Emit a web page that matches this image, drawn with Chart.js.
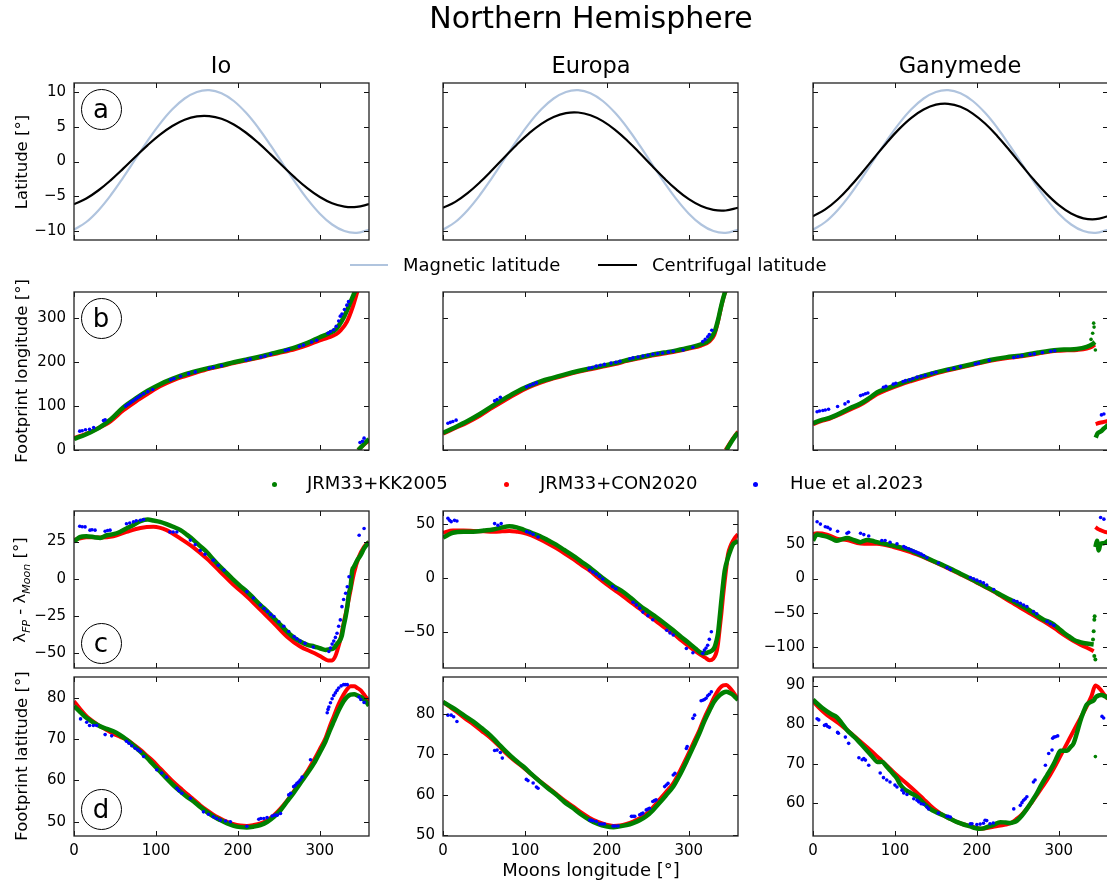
<!DOCTYPE html>
<html><head><meta charset="utf-8">
<script src="https://cdn.jsdelivr.net/npm/chart.js@4.4.1/dist/chart.umd.min.js"></script>
<style>
body{margin:0;width:1107px;height:882px;overflow:hidden;background:#fff;font-family:"DejaVu Sans",sans-serif;position:relative}
.t{position:absolute;white-space:nowrap;color:#000;line-height:1}
.c{transform:translate(-50%,-50%)}
.l{transform:translateY(-50%)}
.r{transform:translate(-50%,-50%) rotate(-90deg)}
.circ{position:absolute;width:41px;height:41px;box-sizing:border-box;border:1.3px solid #000;border-radius:50%;display:flex;align-items:center;justify-content:center;font-size:26px;line-height:1;background:#fff}
.ln{position:absolute}
.dot{position:absolute;width:5px;height:5px;border-radius:50%}
canvas{position:absolute}
</style></head><body>
<script>
// ---------- tick labels ----------
const X_TICKS = [0,100,200,300];
const Y_TICKS_A = [-10,-5,0,5,10];
const Y_TICKS_B = [0,100,200,300];
const Y_TICKS_C_IO = [-50,-25,0,25];
const Y_TICKS_C_EUR = [-50,0,50];
const Y_TICKS_C_GAN = [-100,-50,0,50];
const Y_TICKS_D_IO = [50,60,70,80];
const Y_TICKS_D_EUR = [50,60,70,80];
const Y_TICKS_D_GAN = [60,70,80,90];

// ---------- row a: latitude of the moons ----------
const LON_A = [0,15,30,45,60,75,90,105,120,135,150,165,180,195,210,225,240,255,270,285,300,315,330,345,360];
const MAG_LAT = [-9.85,-8.73,-7.02,-4.84,-2.32,0.36,3.01,5.46,7.53,9.09,10.04,10.29,9.85,8.73,7.02,4.84,2.32,-0.36,-3.01,-5.46,-7.53,-9.09,-10.04,-10.29,-9.85];
const IO_CENT = [-6.16,-5.34,-4.15,-2.68,-1.03,0.69,2.37,3.88,5.13,6.03,6.52,6.56,6.16,5.34,4.15,2.68,1.03,-0.69,-2.37,-3.88,-5.13,-6.03,-6.52,-6.56,-6.16];
const EUR_CENT = [-6.67,-5.82,-4.56,-3.00,-1.23,0.62,2.43,4.07,5.44,6.43,6.99,7.07,6.67,5.82,4.56,3.00,1.23,-0.62,-2.43,-4.07,-5.44,-6.43,-6.99,-7.07,-6.67];
const GAN_CENT = [-7.90,-6.92,-5.48,-3.66,-1.59,0.58,2.72,4.67,6.30,7.50,8.20,8.33,7.90,6.92,5.48,3.66,1.59,-0.58,-2.72,-4.67,-6.30,-7.50,-8.20,-8.33,-7.90];

// ---------- row b: footprint longitude ----------
const IO_B_GREEN = [[0,25],[15,36],[30,50],[45,70],[60,97],[75,117],[90,135],[105,150],[120,162],[135,172],[150,180],[165,187],[180,193],[195,200],[210,206],[225,212],[240,219],[255,226],[270,234],[285,244],[300,257],[310,265],[320,276],[330,305],[337,335],[343,362]];
const IO_B_GREEN_WRAP = [[347,0],[353,12],[360,25]];
const IO_B_RED = [[0,27],[15,37],[30,50],[45,66],[60,90],[75,110],[90,128],[105,145],[120,158],[135,168],[150,177],[165,185],[180,191],[195,198],[210,204],[225,210],[240,217],[255,223],[270,230],[285,239],[300,250],[310,256],[320,264],[325,272],[333,292],[340,325],[346,362]];
const IO_B_RED_WRAP = [[346.5,0],[353,11],[360,22]];
const IO_B_BLUE = [[7,43],[10,44],[14,46],[19,47],[24,51],[36,67],[38,69],[63,100],[66,104],[69,108],[72,112],[75,116],[78,120],[81,124],[85,128],[90,133],[96,138],[118,160],[122,163],[130,168],[140,174],[148,178],[165,186],[170,188],[180,192],[210,205],[215,207],[228,212],[233,214],[240,218],[258,227],[262,229],[275,236],[280,239],[290,246],[296,250],[310,266],[313,270],[317,274],[320,282],[323,294],[325,305],[327,310],[330,320],[333,330],[335,338],[349,17],[352,20],[354,27]];

const EUR_B_GREEN = [[0,39],[15,52],[30,66],[45,82],[60,100],[75,117],[90,133],[105,146],[120,157],[135,165],[150,173],[165,180],[180,186],[195,192],[210,198],[225,205],[240,211],[255,217],[270,222],[285,227],[300,233],[315,241],[325,251],[331.6,270],[335.6,296],[339.7,330],[343.8,358],[344.5,362]];
const EUR_B_GREEN_WRAP = [[346,0],[352,19],[360,40]];
const EUR_B_RED = [[0,37],[15,50],[30,63],[45,78],[60,96],[75,113],[90,129],[105,143],[120,154],[135,163],[150,171],[165,178],[180,184],[195,190],[210,196],[225,203],[240,209],[255,215],[270,220],[285,225],[300,231],[315,238],[325,247],[331,262],[335,288],[339,322],[343,352],[345,362]];
const EUR_B_RED_WRAP = [[345,0],[351,18],[360,42]];
const EUR_B_BLUE = [[6,61],[9,63],[12,65],[16,68],[63,112],[66,115],[70,120],[102,144],[106,147],[110,150],[114,153],[178,186],[182,188],[187,191],[192,193],[197,195],[205,198],[211,200],[216,202],[228,208],[232,210],[238,212],[244,214],[250,216],[256,218],[262,220],[268,221],[275,223],[281,225],[293,228],[305,234],[317,247],[320,252],[323,258],[325,263],[328,273]];

const GAN_B_GREEN = [[0,61],[10,68],[20,73],[29,80],[45,95],[58,106],[70,120],[78,131],[90,140],[107,152],[120,160],[139,171],[155,179],[176,188],[195,196],[216,205],[235,211],[257,216],[275,222],[298,228],[310,229],[322,230],[334,235],[341,241],[344,246]];
const GAN_B_GREEN_OUT = [[339.3,252],[341.3,266],[342.5,289],[343,280],[344.6,228]];
const GAN_B_GREEN_WRAP = [[345,28],[347,37],[351,42],[355,49],[360,57]];
const GAN_B_RED = [[0,59],[10,66],[20,71],[29,78],[45,92],[58,103],[70,117],[78,127],[90,137],[107,149],[120,157],[139,168],[155,177],[176,186],[195,194],[216,203],[235,209],[257,214],[275,220],[298,226],[310,227],[322,228],[334,231],[341,236],[344,240]];
const GAN_B_RED_WRAP = [[345,59],[350,62],[355,64],[360,66]];
const GAN_B_BLUE = [[5,87],[8,89],[12,90],[15,91],[19,93],[30,99],[39,105],[43,110],[58,124],[61,126],[64,128],[67,130],[86,143],[89,145],[98,150],[101,152],[110,156],[113,158],[118,160],[122,163],[127,166],[132,168],[137,170],[145,175],[150,177],[165,183],[172,186],[180,190],[198,196],[202,198],[215,204],[245,211],[250,213],[255,215],[265,218],[270,219],[280,222],[290,225],[295,226],[352,80],[355,82]];

// ---------- row c: lambda_FP - lambda_Moon ----------
const IO_C_GREEN = [[0,25],[7,28],[15,28.6],[25,28],[32,27.5],[40,29.3],[48,30],[56,31.5],[64,33.8],[72,36],[81,38.7],[90,39.8],[97,39.2],[105,38.3],[113,36.8],[121,35],[130,32.7],[138,29.5],[146,26],[154,22],[162,18],[170,13],[178.5,8],[187,3.5],[195,-1],[203,-5],[211,-8.7],[219,-13],[227.5,-17.7],[236,-22],[244,-26.6],[252,-31],[260,-35.6],[268,-39.5],[276,-42.3],[285,-44.5],[293,-45.6],[300,-46.8],[307,-47.9],[312,-47.5],[317,-46.8],[321,-43.8],[325,-41],[327,-38],[329,-32],[331.5,-25.5],[333.5,-18.8],[335.5,-9.8],[337.5,-5.4],[339.6,5.8],[341.6,8],[345.7,12.5],[349.8,15.9],[354,20.4],[360,24.8]];
const IO_C_RED = [[0,26],[15,28],[32,27.7],[48,28.6],[64,31.5],[81,34.2],[97,35],[113,32.7],[130,27],[146,21],[162,13.6],[178.5,4.7],[195,-4.3],[211,-12],[227.5,-21],[244,-30],[260,-39],[276,-45.6],[293,-50],[303,-53],[310,-55],[315,-55],[319,-52],[322,-47],[325,-41],[329,-30],[333.5,-18.8],[337.5,-7.6],[341.6,3.6],[347.7,14.8],[354,21.5],[360,24.8]];
const IO_C_BLUE = [[7,35.3],[10,35],[13.5,34.9],[19.5,32.7],[22,33],[25.7,32.7],[38,32],[41,32.5],[44,32.7],[64,37],[68,37.5],[72.6,38.3],[76,39],[81,39.4],[85,39.8],[117,31.5],[121,31.5],[125.5,31.5],[142,26],[148,23],[154,19],[160,16.5],[170,12.5],[176,9],[183,5.8],[211,-8.7],[219,-13],[227.5,-17.7],[232,-20],[236,-22],[240,-24],[244,-25.5],[250,-29],[256,-32],[262,-35.5],[268.6,-39],[272,-40.5],[276,-42],[282,-43.5],[292,-46],[311,-49],[313,-46.7],[315,-44],[317,-42],[319,-39.5],[321,-36.7],[323,-32],[325,-27.7],[327,-18.8],[329,-14],[331.5,-9.8],[333.5,-5.4],[335.6,1.3],[348,29.3],[354,33.8]];

const EUR_C_GREEN = [[0,37.5],[6,40],[12,42],[25,43],[37,43],[50,44],[61,45],[72,47],[81,48],[90,47],[98,45],[108,42],[118,39],[128,35],[138,31],[148,26],[159,20.6],[169,15],[179,9.8],[189,3.5],[199,-2.5],[209,-8],[220,-13],[230,-19],[240,-25.5],[250,-31],[260,-36.3],[270,-42],[281,-48.6],[291,-55],[301,-61],[308,-65.5],[315,-69.5],[320,-70],[325,-68.6],[329,-67],[331.6,-64],[333.5,-59],[335.6,-51.7],[337.5,-38],[339.7,-21],[341.6,-7],[343.8,6.8],[347.8,19],[351,26],[354,31.4],[357,33],[360,34.5]];
const EUR_C_RED = [[0,42],[12,44],[25,44],[37,43.7],[50,43.3],[61,43],[72,43.3],[81,43.7],[90,43],[98,42],[108,39.5],[118,36],[128,32],[138,27.7],[148,23],[159,17.5],[169,12],[179,6.8],[189,0.5],[199,-5.5],[209,-11],[220,-17],[230,-23],[240,-28.6],[250,-34.5],[260,-40],[270,-46],[281,-51.7],[291,-58],[301,-64],[308,-68],[315,-71.7],[320,-74],[325,-76.3],[328,-76],[331.6,-73],[334,-68],[335.6,-61],[337.5,-48],[339.7,-33],[341.6,-18],[343.8,-2.5],[345.8,10],[347.8,22],[351,30],[354,34.5],[357,38],[360,40.6]];
const EUR_C_BLUE = [[6,55.4],[8,53.5],[10,52.3],[14,53.5],[17,52.9],[63,50.5],[67,49],[71,50.5],[102,43],[106,42],[110,40.6],[116,38],[179,7.4],[183,5.5],[187,3.7],[191,1.5],[195,-1],[207,-8],[211,-10],[232,-22.5],[236,-25],[240,-28],[244,-31.7],[250,-35],[256,-38.8],[273,-48.6],[277,-51],[281,-53],[297,-65.5],[305,-69.5],[317,-70],[319,-67],[321,-65],[323,-62.5],[325,-57],[327.5,-50]];

const GAN_C_GREEN = [[0,55],[3,62],[5,64],[10,63],[17,61],[23,58],[29,55],[35,57],[41.5,59],[50,56],[58,53],[62,55],[66,56],[72,55],[78,53],[88,50.5],[98,48],[108,45],[119,41],[129,35.5],[139,30],[149,24.5],[159.5,19],[170,13],[180,7],[190,1],[200,-5],[210,-11.5],[220.5,-18],[230,-24.5],[241,-31],[251,-37.5],[261,-44],[271,-52],[281.5,-60],[288,-63],[294,-67],[300,-73],[306,-79],[312,-84],[318,-89],[324,-92],[330,-94],[336,-95],[342.5,-96]];
const GAN_C_GREEN_OUT = [[341.7,-89],[342.5,-77],[343.3,-60],[343.7,-55],[343.3,-113],[344.6,-118]];
const GAN_C_GREEN_WRAP = [[344.6,45.7],[346.6,55],[348.7,41],[350.7,50.5],[354.8,51.4],[360,55]];
const GAN_C_RED = [[0,65],[5,66],[17,64],[29,58],[41.5,56],[58,51],[78,50.5],[98,46],[119,38.5],[139,29],[159.5,18],[180,6],[200,-6],[220.5,-19],[241,-34],[261,-48],[281.5,-62.5],[294,-72],[306,-82],[318,-91],[330,-98.5],[338,-103],[342.5,-106]];
const GAN_C_RED_WRAP = [[344.6,75],[348,72],[352,70],[356,68],[360,67]];
const GAN_C_BLUE = [[5,82.7],[9,79.3],[15,75.5],[18,74.5],[21,72],[30,68.8],[41.5,65.9],[43.5,67.3],[58,65.9],[62,64],[68,62],[84,55.3],[88,55.3],[94,52.9],[102.5,50.5],[110.7,46.6],[113,45],[116.8,43.3],[120,41.5],[123,39.9],[126,38.5],[129,37],[132,35.5],[135,33.6],[139,30.3],[153,22.6],[163.5,15.9],[167.6,13],[192,1.4],[196,-0.5],[200,-2.4],[204,-4.5],[208,-6.3],[212,-9.6],[220.5,-15.9],[245,-32],[249,-33.7],[253,-36],[257,-38.5],[261,-40.9],[269,-48],[273,-51.4],[285.6,-62.5],[289.7,-65.9],[294,-68.3],[351,89],[355,86.5]];

// ---------- row d: footprint latitude ----------
const IO_D_GREEN = [[0,78],[8,76.5],[15.5,75.1],[24,74],[32,73.1],[40,72.5],[48,71.9],[56,71],[64,69.9],[72,68.6],[81,67],[89,65.5],[97,63.8],[105,62.2],[113,60.5],[121,58.9],[130,57.3],[138,56],[146,54.9],[154,53.6],[162,52.4],[170,51.3],[178.5,50.4],[187,49.6],[195,49],[203,48.7],[211,48.6],[219,48.8],[227.5,49.2],[236,50],[244,51.2],[252,52.8],[260,54.9],[268,57],[276,59.3],[285,61.8],[293,64.2],[300,66.8],[307,69.5],[312,72],[317,74.3],[323,77],[329,79.2],[333,80.2],[337.5,80.8],[342,80.9],[345.7,80.6],[350,80.2],[353.9,79.6],[357,78.9],[360,78.1]];
const IO_D_RED = [[0,79.2],[8,77.2],[15.5,75.5],[24,74.2],[32,73.1],[40,72.2],[48,71.3],[56,70.6],[64,69.9],[72,68.8],[81,67.4],[89,66],[97,64.6],[105,62.9],[113,61.3],[121,59.7],[130,58.1],[138,56.7],[146,55.4],[154,54],[162,52.8],[170,51.7],[178.5,50.8],[187,50],[195,49.4],[203,49.1],[211,49],[219,49.2],[227.5,49.6],[236,50.4],[244,51.6],[252,53.2],[260,55.1],[268,57.3],[276,59.7],[285,62.3],[293,65],[300,67.6],[307,70.3],[312,73],[317,75.5],[323,78.5],[329,80.8],[333,82],[337.5,82.8],[342,82.8],[345.7,82.4],[350,81.8],[353.9,80.8],[357,80],[360,79.2]];
const IO_D_BLUE = [[8,74.9],[15.5,74.1],[19,73.3],[23.6,73.3],[27.7,73.3],[38,71.1],[46,70.8],[64,69.5],[67,69],[70.5,68.4],[74.6,67.8],[78,67.4],[81,67],[85,65.8],[101,62.6],[107,61.8],[113,60.8],[125.6,58.1],[128,57.5],[131.7,56.9],[142,55.7],[158,52.4],[164,51.8],[170,51.2],[174,50.8],[178.5,50.4],[185,50.2],[190.8,50],[211,48.9],[225.5,50.6],[228,50.8],[231.6,50.8],[235.6,51],[241.8,51.4],[245,51.6],[248,51.6],[252,52],[262,56.5],[264.4,56.9],[268,58.5],[270,58.8],[272,59.3],[274,59.6],[276,60.1],[278.4,60.8],[288.6,65],[309,76.4],[310,77.2],[311,77.8],[313,78.8],[315,79.8],[317,80.6],[319,81.2],[321,81.8],[323,82.4],[326,82.9],[329,83.2],[331,83.2],[333.5,83.2],[347.7,80.2],[350,79.6],[354,78.9]];

const EUR_D_GREEN = [[0,83.1],[8,82.1],[16,81.1],[26,79.7],[37,78.2],[47,76.6],[57,74.9],[67,72.8],[77,70.7],[87,68.8],[98,67],[108,65.1],[118,63.3],[128,61.6],[138,60],[148,58.2],[159,56.6],[169,55],[179,53.7],[189,52.7],[199,52.1],[208,51.9],[216,52.1],[224,52.4],[232,52.9],[240,53.6],[248,54.6],[256,56.1],[264,57.9],[272,59.8],[281,62],[289,64.9],[297,68.2],[305,71.7],[313,75.3],[319,78.3],[325.5,81.1],[331,83.2],[337.7,84.8],[342,85.4],[345.8,85.6],[350,85.3],[354,84.8],[357,84.2],[360,83.6]];
const EUR_D_RED = [[0,83.1],[8,81.9],[16,80.7],[26,79.1],[37,77.5],[47,75.9],[57,74.3],[67,72.4],[77,70.3],[87,68.5],[98,66.8],[108,65],[118,63.4],[128,61.8],[138,60.2],[148,58.6],[159,57],[169,55.5],[179,54.2],[189,53.2],[199,52.5],[208,52.2],[216,52.3],[224,52.7],[232,53.3],[240,54.1],[248,55.2],[256,56.8],[264,58.7],[272,60.6],[281,62.8],[289,65.8],[297,69.1],[305,72.6],[313,76.1],[319,79.1],[325.5,81.9],[331,84.3],[337.7,86.5],[342,87.2],[345.8,87.3],[350,86.6],[354,85.6],[357,84.7],[360,83.6]];
const EUR_D_BLUE = [[6,79.8],[10,79.8],[13,79.4],[17,78.2],[63,71],[66,71.1],[70,70.5],[72.4,69.1],[101.7,63.8],[103.7,63.5],[110,62.9],[114,61.9],[116,61.6],[179,53.7],[181,53.6],[183,53.5],[187,53.3],[191,52.7],[194,52.7],[197,52.7],[207.5,52.2],[210,52.2],[213.6,52.2],[230,54.6],[232,54.6],[234,54.6],[240,55],[242,55.2],[244,55.4],[248,56.2],[250,56.4],[252,56.6],[256,58.3],[258,58.5],[260,58.7],[270.5,62],[272.5,62.4],[274.6,62.8],[281,64.9],[283,65.3],[297,71.5],[298,72],[305,79],[307,79.8],[315,83.4],[317,83.5],[319,83.7],[321,84],[323,84.6],[325,85],[327.5,85.6]];

const GAN_D_GREEN = [[0,86.4],[5,85.4],[11,84.3],[17,83.4],[23,82.6],[29,81.9],[35,80.4],[41.5,78.6],[48,77.3],[54,76.1],[60,74.7],[66,73.3],[72,71.9],[78,70.5],[81,70.4],[84,70.5],[89,69.5],[94,68.3],[98,67.3],[102.5,66.2],[106,64.8],[110.7,63.6],[118,62.6],[127,61.5],[135,59.9],[143,58.4],[151,57.5],[159.5,56.7],[168,55.8],[176,55],[184,54.4],[192,53.9],[198,53.5],[204,53.3],[208,53.4],[212,53.7],[220,54.3],[228.6,55],[235,54.9],[241,54.8],[245,55],[249,55.4],[255,56.7],[261,58.4],[267,60.3],[273,62.3],[279,64.7],[285.6,67],[290,68.5],[294,70],[298,71.8],[302,73.3],[306,73.3],[310,73.3],[314,74.2],[318,75.2],[322,77.8],[326,80.8],[330,83.2],[334,85.1],[338,85.7],[342.5,86.2],[345,87],[348.7,87.5],[352,87.6],[357,87.2],[360,86.8]];
const GAN_D_GREEN_OUT = [[344.6,71.8]];
const GAN_D_RED = [[0,86],[8,84.2],[17,82.5],[29,80.7],[41.5,78.6],[54,76.4],[66,74.2],[75,72.5],[84,70.7],[93,68.9],[102.5,67],[115,64.8],[127,62.5],[135,60.9],[143,59.3],[151,57.9],[159.5,56.7],[168,55.8],[176,55],[184,54.4],[192,54],[198,53.6],[204,53.3],[212,53.5],[220,53.8],[228.6,54.1],[235,54.4],[241,54.7],[249,55.9],[255,57],[261,58.4],[267,60.1],[273,61.9],[279,63.8],[285.6,65.8],[294,68.8],[302,72],[310,75.2],[318,78.4],[326,81.5],[334,84.7],[340,87.4],[344.6,90],[350.7,89],[355,87.8],[360,86.6]];
const GAN_D_BLUE = [[5,81.5],[7,81.2],[14,79.8],[16,80],[18,79.5],[20,79.3],[30,78],[31,77.8],[39.5,76.8],[43.5,75.2],[56,71.5],[60,71],[62,71.3],[64,70.9],[68,69.6],[82,67.6],[86,66.4],[90,65.8],[94,65.3],[100,64.5],[102.5,64],[108.6,63.2],[110.7,62.5],[114.7,62.1],[123,61],[127,60.6],[129,60.2],[132,59.7],[135,59.6],[139,58.9],[141,58.4],[153,57.3],[163.5,56.5],[165,56.5],[167.6,56.3],[192,54.6],[194,54.6],[200,54.4],[204,54.5],[208,54.7],[210,55.5],[212,55.4],[216,54.6],[220,54.8],[245,58.4],[253,59.3],[255,60],[257,60.6],[259,61],[261,61.5],[269,65.3],[271,65.8],[283.6,69.6],[287.6,72.6],[291.7,73.5],[292.5,76.5],[294,76.8],[296,76.9],[298.6,77.1],[352.7,82.1],[354.7,81.7]];

// ---------- helpers ----------
const GREEN='#008000', RED='#ff0000', BLUE='#0000ff', LSB='#b0c4de';
const P = a => a.map(([x,y]) => ({x,y}));
const Z = (xs, ys) => xs.map((x,i) => ({x, y: ys[i]}));
const line = (data, color, w) => ({data, showLine:true, borderColor:color, backgroundColor:color, borderWidth:w, pointRadius:0, cubicInterpolationMode:'monotone', clip:0});
const sine = (data, color, w) => ({data, showLine:true, borderColor:color, borderWidth:w, pointRadius:0, tension:0.4, clip:0});
const pts = (data, color, r) => ({data, showLine:false, backgroundColor:color, borderColor:color, borderWidth:0, pointRadius:r, clip:0});
const fmt = v => String(v).replace('-', '\u2212');

const frame = {
  id:'frame',
  afterDatasetsDraw(c){
    const {ctx, chartArea:a, scales:{x,y}} = c;
    ctx.save();
    ctx.strokeStyle='#111'; ctx.lineWidth=1;
    ctx.beginPath();
    x.ticks.forEach(t => { const p = Math.round(x.getPixelForValue(t.value))+0.5;
      ctx.moveTo(p, a.bottom); ctx.lineTo(p, a.bottom-5);
      ctx.moveTo(p, a.top); ctx.lineTo(p, a.top+5); });
    y.ticks.forEach(t => { const p = Math.round(y.getPixelForValue(t.value))+0.5;
      ctx.moveTo(a.left, p); ctx.lineTo(a.left+5, p);
      ctx.moveTo(a.right, p); ctx.lineTo(a.right-5, p); });
    ctx.stroke();
    ctx.lineWidth=1.3; ctx.strokeStyle='#222';
    ctx.strokeRect(a.left, a.top, a.right-a.left, a.bottom-a.top);
    ctx.restore();
  }
};

const COLS = [74, 443, 813];
const PW = 295;
const ROWS = [[83,240],[292,450],[511,668],[677,836]];

function panel(col, row, yMin, yMax, yTicks, showY, showX, datasets){
  const YW=60, M=28, XB = showX ? 36 : 28;
  const left = COLS[col], top = ROWS[row][0], bottom = ROWS[row][1];
  const W = YW + PW + M, H = M + (bottom-top) + XB;
  const cv = document.createElement('canvas');
  cv.width = W; cv.height = H;
  cv.style.left = (left-YW)+'px'; cv.style.top = (top-M)+'px';
  cv.style.width = W+'px'; cv.style.height = H+'px';
  document.body.appendChild(cv);
  const font = {family:'DejaVu Sans', size:15};
  new Chart(cv, {
    type:'scatter',
    data:{datasets},
    options:{
      responsive:false, animation:false, devicePixelRatio:1, events:[],
      plugins:{legend:{display:false}, tooltip:{enabled:false}},
      layout:{padding:{top:M, right:M, left:0, bottom:0}},
      scales:{
        x:{type:'linear', min:0, max:360,
           afterBuildTicks:s => { s.ticks = X_TICKS.map(v => ({value:v})); },
           afterFit:s => { s.height = XB; },
           grid:{display:false, drawTicks:false}, border:{display:false},
           ticks:{display:showX, color:'#000', font, padding:6, maxRotation:0, callback:fmt}},
        y:{type:'linear', min:yMin, max:yMax,
           afterBuildTicks:s => { s.ticks = yTicks.map(v => ({value:v})); },
           afterFit:s => { s.width = YW; },
           grid:{display:false, drawTicks:false}, border:{display:false},
           ticks:{display:showY, color:'#000', font, padding:8, callback:fmt}}
      }
    },
    plugins:[frame]
  });
}

// row a
panel(0,0,-11.33,11.33,Y_TICKS_A,true,false,[sine(Z(LON_A,IO_CENT),'#000',2.2), sine(Z(LON_A,MAG_LAT),LSB,2.2)]);
panel(1,0,-11.33,11.33,Y_TICKS_A,false,false,[sine(Z(LON_A,EUR_CENT),'#000',2.2), sine(Z(LON_A,MAG_LAT),LSB,2.2)]);
panel(2,0,-11.33,11.33,Y_TICKS_A,false,false,[sine(Z(LON_A,GAN_CENT),'#000',2.2), sine(Z(LON_A,MAG_LAT),LSB,2.2)]);
// row b
panel(0,1,0,360,Y_TICKS_B,true,false,[pts(P(IO_B_BLUE),BLUE,1.8), line(P(IO_B_GREEN),GREEN,4.5), line(P(IO_B_GREEN_WRAP),GREEN,4.5), line(P(IO_B_RED),RED,4), line(P(IO_B_RED_WRAP),RED,4)]);
panel(1,1,0,360,Y_TICKS_B,false,false,[pts(P(EUR_B_BLUE),BLUE,1.8), line(P(EUR_B_GREEN),GREEN,4.5), line(P(EUR_B_GREEN_WRAP),GREEN,4.5), line(P(EUR_B_RED),RED,4), line(P(EUR_B_RED_WRAP),RED,4)]);
panel(2,1,0,360,Y_TICKS_B,false,false,[pts(P(GAN_B_BLUE),BLUE,1.8), pts(P(GAN_B_GREEN_OUT),GREEN,1.8), line(P(GAN_B_GREEN),GREEN,4.5), line(P(GAN_B_GREEN_WRAP),GREEN,4.5), line(P(GAN_B_RED),RED,4), line(P(GAN_B_RED_WRAP),RED,4)]);
// row c
panel(0,2,-60.1,45.6,Y_TICKS_C_IO,true,false,[pts(P(IO_C_BLUE),BLUE,1.8), line(P(IO_C_GREEN),GREEN,4.5), line(P(IO_C_RED),RED,4)]);
panel(1,2,-83.6,62.2,Y_TICKS_C_EUR,true,false,[pts(P(EUR_C_BLUE),BLUE,1.8), line(P(EUR_C_GREEN),GREEN,4.5), line(P(EUR_C_RED),RED,4)]);
panel(2,2,-130.4,98.4,Y_TICKS_C_GAN,true,false,[pts(P(GAN_C_BLUE),BLUE,1.8), pts(P(GAN_C_GREEN_OUT),GREEN,2), line(P(GAN_C_GREEN),GREEN,4.5), line(P(GAN_C_GREEN_WRAP),GREEN,4.5), line(P(GAN_C_RED),RED,4), line(P(GAN_C_RED_WRAP),RED,4)]);
// row d
panel(0,3,46.55,85.05,Y_TICKS_D_IO,true,true,[pts(P(IO_D_BLUE),BLUE,1.8), line(P(IO_D_GREEN),GREEN,4.5), line(P(IO_D_RED),RED,4)]);
panel(1,3,49.7,89.3,Y_TICKS_D_EUR,true,true,[pts(P(EUR_D_BLUE),BLUE,1.8), line(P(EUR_D_GREEN),GREEN,4.5), line(P(EUR_D_RED),RED,4)]);
panel(2,3,51.45,92.2,Y_TICKS_D_GAN,true,true,[pts(P(GAN_D_BLUE),BLUE,1.8), pts(P(GAN_D_GREEN_OUT),GREEN,1.8), line(P(GAN_D_GREEN),GREEN,4.5), line(P(GAN_D_RED),RED,4)]);
</script>

<div class="t c" style="left:591px;top:18px;font-size:30px">Northern Hemisphere</div>
<div class="t c" style="left:221px;top:65px;font-size:22.5px">Io</div>
<div class="t c" style="left:591px;top:65px;font-size:22.5px">Europa</div>
<div class="t c" style="left:960px;top:65px;font-size:22.5px">Ganymede</div>

<div class="t r" style="left:22px;top:162px;font-size:16.5px">Latitude [°]</div>
<div class="t r" style="left:22px;top:371px;font-size:16.5px">Footprint longitude [°]</div>
<div class="t r" style="left:22px;top:590px;font-size:16.5px">λ<sub style="font-size:11px;font-style:italic">FP</sub> - λ<sub style="font-size:11px;font-style:italic">Moon</sub> [°]</div>
<div class="t r" style="left:22px;top:756px;font-size:16.5px">Footprint latitude [°]</div>
<div class="t c" style="left:591px;top:870px;font-size:18px">Moons longitude [°]</div>

<div class="ln" style="left:350px;top:264px;width:38px;height:2.2px;background:#b0c4de"></div>
<div class="t l" style="left:403px;top:265px;font-size:18px">Magnetic latitude</div>
<div class="ln" style="left:598px;top:264px;width:39px;height:2.2px;background:#000"></div>
<div class="t l" style="left:652px;top:265px;font-size:18px">Centrifugal latitude</div>

<div class="dot" style="left:271.5px;top:482px;background:#008000"></div>
<div class="t l" style="left:307px;top:483px;font-size:18px">JRM33+KK2005</div>
<div class="dot" style="left:504px;top:482px;background:#ff0000"></div>
<div class="t l" style="left:540px;top:483px;font-size:18px">JRM33+CON2020</div>
<div class="dot" style="left:752.5px;top:481.5px;background:#0000ff"></div>
<div class="t l" style="left:790px;top:483px;font-size:18px">Hue et al.2023</div>

<div class="circ" style="left:80.5px;top:88.5px">a</div>
<div class="circ" style="left:80.5px;top:297.5px">b</div>
<div class="circ" style="left:80.5px;top:622.5px">c</div>
<div class="circ" style="left:80.5px;top:788.5px">d</div>
</body></html>
